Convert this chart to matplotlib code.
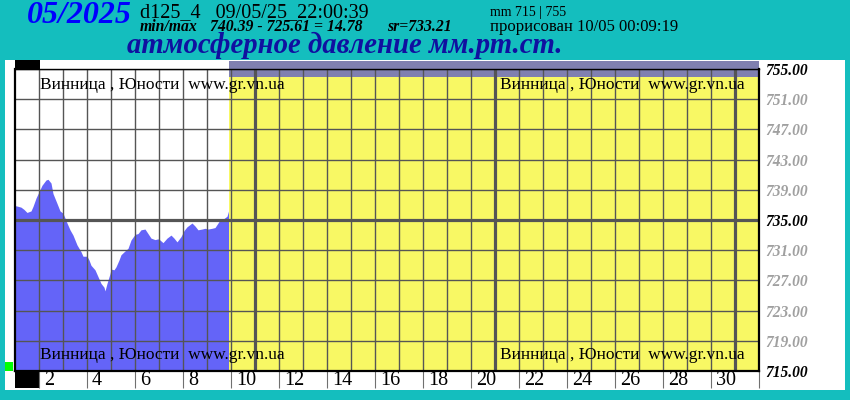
import matplotlib
matplotlib.use('Agg')
import matplotlib.pyplot as plt
from matplotlib.patches import Rectangle
from matplotlib.transforms import ScaledTranslation
import numpy as np

# hours since 01/05 00:00 and pressure, mm Hg
hours = [0, 2, 6, 9, 12, 16, 18, 21, 24, 27, 31, 33, 36, 38, 42, 45, 48, 52,
         55, 58, 62, 66, 68, 72, 74, 76, 80, 83, 86, 89, 90, 92, 95, 96, 99,
         101, 104, 106, 110, 113, 116, 120, 123, 126, 130, 133, 136, 140, 143,
         145, 148, 152, 156, 159, 162, 166, 169, 172, 177, 180, 183, 187, 190,
         193, 197, 200, 203, 206, 209, 212, 214]
pressure = [736.9, 736.85, 736.7, 736.4, 736.0, 736.2, 736.8, 737.9, 738.75,
            739.6, 740.3, 740.39, 739.9, 738.5, 737.2, 736.2, 735.9, 734.6,
            733.7, 733.0, 731.7, 730.8, 730.2, 730.2, 729.7, 729.0, 728.4,
            727.5, 726.6, 726.1, 725.61, 726.6, 727.9, 728.5, 728.4, 728.8,
            729.7, 730.4, 730.9, 731.25, 732.35, 733.1, 733.2, 733.7, 733.8,
            733.2, 732.6, 732.4, 732.5, 732.35, 732.0, 732.6, 733.0, 732.6,
            732.1, 732.8, 733.6, 734.1, 734.6, 734.2, 733.7, 733.8, 733.9,
            733.8, 733.9, 734.0, 734.6, 735.2, 735.2, 735.5, 736.4]

y_ticks = [715, 719, 723, 727, 731, 735, 739, 743, 747, 751, 755]
x_label_days = list(range(2, 31, 2))
station = 'Винница , Юности  www.gr.vn.ua'

W, H = 850, 400
TEAL = '#14bebe'
SERIF = 'Liberation Serif'


def px(x, y):
    return x / W, 1 - y / H


def box(x0, y0, w, h, color):
    # rectangle given in picture pixels from the top-left corner
    fig.patches.append(Rectangle(px(x0, y0 + h), w / W, h / H, transform=fig.transFigure,
                                 facecolor=color, edgecolor='none', zorder=-1))


fig = plt.figure(figsize=(W / 100, H / 100), dpi=100, facecolor=TEAL)

# white panel and small decorations
box(5, 60, 840, 330, 'white')
box(15, 60, 25, 9, 'black')
box(15, 371, 25, 17, 'black')
box(5, 362, 8, 9, '#00ff00')

ax = fig.add_axes([15 / W, 29 / H, 744 / W, 302 / H], zorder=2)
ax.patch.set_alpha(0)

days = 1 + np.array(hours) / 24
end_day = days[-1]

ax.fill_between(days, 715, pressure, color='#6464f8', lw=0)
ax.axvspan(end_day, 32, ymin=0, ymax=(371 - 77) / 302, color='#f8f864', lw=0)
ax.axvspan(end_day, 32, ymin=(371 - 77) / 302, ymax=(371 - 61) / 302,
           color='#8080b0', lw=0, clip_on=False)

ax.set_xlim(1, 32)
ax.set_ylim(715, 755)

# grid
ax.set_xticks(range(2, 32), minor=True)
ax.set_xticks(x_label_days + [32])
ax.set_xticklabels([str(d) for d in x_label_days] + [''])
ax.set_yticks(y_ticks)
ax.set_yticklabels([f'{v:.2f}' for v in y_ticks])
ax.grid(which='both', axis='x', color='#555555', lw=1.0)
ax.grid(which='major', axis='y', color='#555555', lw=1.0)
for d in (11, 21, 31):
    ax.axvline(d, color='#555555', lw=2.3, zorder=1.6)
ax.axhline(735, color='#555555', lw=2.3, zorder=1.6)

for side in ('left', 'right', 'bottom'):
    ax.spines[side].set_linewidth(1.6)
ax.spines['top'].set_linewidth(1.0)

ax.tick_params(axis='x', which='minor', length=0)
ax.tick_params(axis='x', which='major', direction='out', length=12.5, width=0.8,
               color='#707070', pad=-12.5, labelsize=14.5)
for lab in ax.get_xticklabels():
    lab.set_fontfamily(SERIF)
    lab.set_horizontalalignment('left')
    lab.set_transform(lab.get_transform() + ScaledTranslation(5 / 100, 0, fig.dpi_scale_trans))

ax.yaxis.tick_right()
ax.tick_params(axis='y', length=0, pad=4.5, labelsize=11.2)
for lab, v in zip(ax.get_yticklabels(), y_ticks):
    lab.set_fontfamily(SERIF)
    lab.set_fontweight('bold')
    lab.set_fontstyle('italic')
    lab.set_color('black' if v in (715, 735, 755) else '#a0a0a0')

# station labels
for xf in ((40 - 15) / 744, (500 - 15) / 744):
    for yf in ((371 - 85) / 302, (371 - 355) / 302):
        ax.text(xf, yf, station, transform=ax.transAxes, family=SERIF,
                fontsize=12.5, va='center', ha='left', color='black')

# header
fig.text(*px(27, 23), '05/2025', family=SERIF, fontsize=23, fontweight='bold',
         fontstyle='italic', color='#0000ff', va='baseline')
fig.text(*px(140, 17), 'd125_4   09/05/25_22:00:39', family=SERIF, fontsize=14.5,
         color='black', va='baseline')
fig.text(*px(140, 31), 'min/max', family=SERIF, fontsize=11.3, fontweight='bold',
         fontstyle='italic', va='baseline')
fig.text(*px(210, 31), '740.39 - 725.61 = 14.78', family=SERIF, fontsize=11.3,
         fontweight='bold', fontstyle='italic', va='baseline')
fig.text(*px(387, 31), 'sr=733.21', family=SERIF, fontsize=11.3, fontweight='bold',
         fontstyle='italic', va='baseline')
fig.text(*px(490, 16), 'mm 715 | 755', family=SERIF, fontsize=10, va='baseline')
fig.text(*px(490, 31), 'прорисован 10/05 00:09:19', family=SERIF, fontsize=12,
         va='baseline')
fig.text(*px(127, 53), 'атмосферное давление мм.рт.ст.', family=SERIF, fontsize=20.7,
         fontweight='bold', fontstyle='italic', color='#1010a0', va='baseline')

fig.savefig('out.png', dpi=100, facecolor=TEAL)
